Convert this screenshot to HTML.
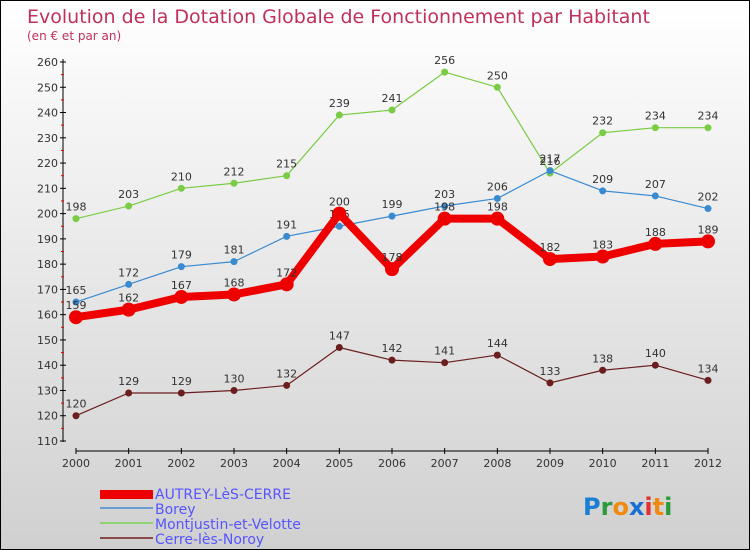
<!DOCTYPE html>
<html><head><meta charset="utf-8"><style>
body{margin:0}
#c{width:748px;height:548px;border:1px solid #000;background:linear-gradient(#fff,#d0d0d0);position:relative;overflow:hidden;font-family:"DejaVu Sans","Liberation Sans",sans-serif}
</style></head><body>
<div id="c">
<svg id="s" width="748" height="548" xmlns="http://www.w3.org/2000/svg">
<text x="26" y="22" font-size="19" fill="#c0305a">Evolution de la Dotation Globale de Fonctionnement par Habitant</text>
<text x="26" y="39" font-size="12" fill="#c0305a">(en € et par an)</text>
<g id="axes"></g><g id="series"></g>
<g>
<rect x="99" y="489" width="53" height="9" fill="#e00"/>
<text x="154" y="498" font-size="14" fill="#5555ff">AUTREY-LèS-CERRE</text>
<rect x="99" y="506" width="53" height="2" fill="#6a9ed2"/>
<text x="154" y="513" font-size="14" fill="#5555ff">Borey</text>
<rect x="99" y="521" width="53" height="2" fill="#8fd470"/>
<text x="154" y="528" font-size="14" fill="#5555ff">Montjustin-et-Velotte</text>
<rect x="99" y="536" width="53" height="2" fill="#8a4a4a"/>
<text x="154" y="543" font-size="14" fill="#5555ff">Cerre-lès-Noroy</text>
</g>
<text x="582" y="514" font-size="24" font-weight="bold"><tspan fill="#1a7fd4">P</tspan><tspan fill="#2a9a3a">r</tspan><tspan fill="#f08a10">o</tspan><tspan fill="#1a6fd4">x</tspan><tspan fill="#e03030">i</tspan><tspan fill="#f08a10">t</tspan><tspan fill="#2a9a3a">i</tspan></text>
</svg></div>
<script>
const years=[2000,2001,2002,2003,2004,2005,2006,2007,2008,2009,2010,2011,2012];
const autrey=[159,162,167,168,172,200,178,198,198,182,183,188,189];
const borey=[165,172,179,181,191,195,199,203,206,217,209,207,202];
const montjustin=[198,203,210,212,215,239,241,256,250,216,232,234,234];
const cerre=[120,129,129,130,132,147,142,141,144,133,138,140,134];
const yTicks=[110,120,130,140,150,160,170,180,190,200,210,220,230,240,250,260];
const NS="http://www.w3.org/2000/svg";
const x=i=>75+i*(632/12);
const y=v=>440-(v-110)*(379/150);
function mk(t,a,p){const e=document.createElementNS(NS,t);for(const k in a)e.setAttribute(k,a[k]);p.appendChild(e);return e;}
const ax=document.getElementById('axes');
let l=mk('line',{x1:62,y1:58,x2:62,y2:441,stroke:'#000','stroke-width':1},ax);


yTicks.forEach(v=>{
 let t=mk('line',{x1:59,x2:65,y1:y(v),y2:y(v),stroke:'#000'},ax);
 
 
 if(v<260){let r=mk('line',{x1:60,x2:63,y1:y(v+5),y2:y(v+5),stroke:'#e00'},ax);
 
 }
 let tx=mk('text',{x:57,y:y(v)+4,'font-size':11,fill:'#333','text-anchor':'end'},ax);tx.textContent=v;
 
 
});
let xa=mk('line',{x1:75,y1:450,x2:707,y2:450,stroke:'#000'},ax);


years.forEach((yr,i)=>{
 let t=mk('line',{x1:x(i),x2:x(i),y1:447,y2:453,stroke:'#000'},ax);
 
 
 let tx=mk('text',{x:x(i),y:466,'font-size':11,fill:'#333','text-anchor':'middle'},ax);tx.textContent=yr;
 
 
});
const sg=document.getElementById('series');
function draw(data,name,color,w,r){
 const g=mk('g',{},sg);
 
 
 let p=mk('polyline',{points:data.map((v,i)=>x(i)+','+y(v)).join(' '),fill:'none',stroke:color,'stroke-width':w,'stroke-linejoin':'round'},g);
 
 
 data.forEach((v,i)=>{
  let c=mk('circle',{cx:x(i),cy:y(v),r:r,fill:color},g);
  
  
  let t=mk('text',{x:x(i),y:y(v)-8,'font-size':11,fill:'#333','text-anchor':'middle'},g);t.textContent=v;
  
  
 });
}
draw(cerre,'cerre','#6a1e1e',1.2,3.5);
draw(montjustin,'montjustin','#7acc44',1.2,3.5);
draw(borey,'borey','#3a8ad0',1.2,3.5);
draw(autrey,'autrey','#ee0000',8,7);
</script>
</body></html>
